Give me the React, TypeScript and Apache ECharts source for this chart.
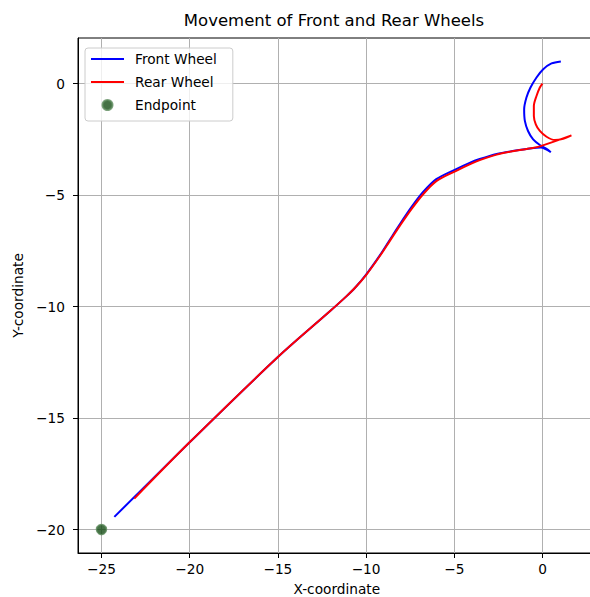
import React, { useEffect, useRef } from "react";
import * as echarts from "echarts";

const title = "Movement of Front and Rear Wheels";
const xTicks = [-25, -20, -15, -10, -5, 0];
const yTicks = [-20, -15, -10, -5, 0];

// Front wheel path [x, y] (cusp point repeated so it stays sharp)
const frontWheel: [number, number][] = [
  [1.04, 1.0], [0.51, 0.91], [0.04, 0.65], [-0.34, 0.28], [-0.68, -0.17],
  [-0.91, -0.62], [-1.04, -1.15], [-1.0, -1.67], [-0.82, -2.12], [-0.53, -2.5],
  [-0.15, -2.75], [0.23, -2.92], [0.47, -3.07], [0.47, -3.07],
  [-0.1, -2.86], [-0.9, -2.93], [-1.7, -3.02], [-2.6, -3.15], [-3.56, -3.38],
  [-4.13, -3.55], [-4.92, -3.84], [-6.02, -4.28], [-6.78, -4.87], [-7.44, -5.55],
  [-8.1, -6.32], [-8.67, -7.02], [-9.23, -7.71], [-9.99, -8.55], [-10.6, -9.13],
  [-11.12, -9.54], [-12.07, -10.22], [-14.97, -12.24], [-20.06, -16.13], [-24.27, -19.43],
];

// Rear wheel path [x, y] (cusp point repeated so it stays sharp)
const rearWheel: [number, number][] = [
  [0.0, 0.0], [-0.15, -0.17], [-0.34, -0.55], [-0.49, -1.0], [-0.49, -1.45],
  [-0.38, -1.82], [-0.15, -2.12], [0.23, -2.38], [0.7, -2.53], [1.17, -2.47],
  [1.64, -2.32], [1.64, -2.32],
  [-0.15, -2.81], [-0.9, -2.93], [-1.7, -3.03], [-2.6, -3.18], [-3.56, -3.43],
  [-4.13, -3.62], [-4.92, -3.92], [-6.02, -4.37], [-6.78, -4.97], [-7.44, -5.64],
  [-8.1, -6.39], [-8.67, -7.07], [-9.23, -7.74], [-9.99, -8.57], [-10.6, -9.13],
  [-11.12, -9.54], [-12.07, -10.22], [-14.97, -12.24], [-20.06, -16.13], [-23.14, -18.61],
];

const endpoint: [number, number][] = [[-25, -20]];

const FONT = "DejaVu Sans";
const minus = (v: number) => String(v).replace("-", "\u2212");

export default function App() {
  const ref = useRef<HTMLDivElement>(null);
  useEffect(() => {
    if (!ref.current) return;
    const chart = echarts.init(ref.current, undefined, { renderer: "svg" });
    chart.setOption({
      animation: false,
      backgroundColor: "#ffffff",
      textStyle: { fontFamily: FONT },
      title: {
        text: title,
        left: 334,
        top: 12,
        textAlign: "center",
        padding: 0,
        textStyle: { fontFamily: FONT, fontSize: 16.5, fontWeight: "normal", color: "#000" },
      },
      legend: {
        orient: "vertical",
        left: 85,
        top: 48,
        padding: [3, 16, 8, 5],
        itemWidth: 33,
        itemHeight: 10,
        itemGap: 7,
        backgroundColor: "rgba(255,255,255,0.8)",
        borderColor: "#cccccc",
        borderWidth: 1,
        borderRadius: 3,
        textStyle: { fontFamily: FONT, fontSize: 13.7, color: "#000", lineHeight: 16, padding: [0, 0, 0, 6] },
        data: [
          { name: "Front Wheel", itemStyle: { opacity: 0 } },
          { name: "Rear Wheel", itemStyle: { opacity: 0 } },
          { name: "Endpoint" },
        ],
      },
      grid: {
        left: 78,
        top: 38,
        width: 517.6,
        height: 515,
        show: true,
        borderColor: "#000",
        borderWidth: 1,
        backgroundColor: "transparent",
        containLabel: false,
        outerBoundsMode: "none",
      },
      xAxis: {
        type: "value",
        min: -26.33,
        max: 3.01,
        name: "X-coordinate",
        nameLocation: "middle",
        nameGap: 29,
        nameTextStyle: { fontFamily: FONT, fontSize: 13.7, color: "#000" },
        axisLine: { show: true, onZero: false, lineStyle: { color: "#000", width: 1 } },
        axisTick: { show: true, inside: false, length: 5, lineStyle: { color: "#000" }, customValues: xTicks },
        axisLabel: { margin: 9, fontFamily: FONT, fontSize: 13.7, color: "#000", customValues: xTicks, formatter: minus },
        splitLine: { show: true, lineStyle: { color: "#b0b0b0", width: 1 } },
      },
      yAxis: {
        type: "value",
        min: -21.05,
        max: 2.05,
        name: "Y-coordinate",
        nameLocation: "middle",
        nameGap: 52,
        nameRotate: 90,
        nameTextStyle: { fontFamily: FONT, fontSize: 13.7, color: "#000" },
        axisLine: { show: true, onZero: false, lineStyle: { color: "#000", width: 1 } },
        axisTick: { show: true, inside: false, length: 5, lineStyle: { color: "#000" }, customValues: yTicks },
        axisLabel: { margin: 13, fontFamily: FONT, fontSize: 13.7, color: "#000", customValues: yTicks, formatter: minus },
        splitLine: { show: true, lineStyle: { color: "#b0b0b0", width: 1 } },
      },
      series: [
        {
          name: "Front Wheel",
          type: "line",
          data: frontWheel,
          showSymbol: false,
          symbol: "none",
          smooth: 0.3,
          lineStyle: { color: "#0000ff", width: 2 },
          itemStyle: { color: "#0000ff" },
          z: 2,
        },
        {
          name: "Rear Wheel",
          type: "line",
          data: rearWheel,
          showSymbol: false,
          symbol: "none",
          smooth: 0.3,
          lineStyle: { color: "#ff0000", width: 2 },
          itemStyle: { color: "#ff0000" },
          z: 3,
        },
        {
          name: "Endpoint",
          type: "scatter",
          data: endpoint,
          symbolSize: 10,
          itemStyle: { color: "#174d17", borderColor: "#5b8a5b", borderWidth: 1.5 },
          z: 4,
        },
      ],
    });
    return () => chart.dispose();
  }, []);
  return (
    <div
      ref={ref}
      style={{ position: "absolute", left: 0, top: 0, width: 590, height: 597 }}
    />
  );
}
